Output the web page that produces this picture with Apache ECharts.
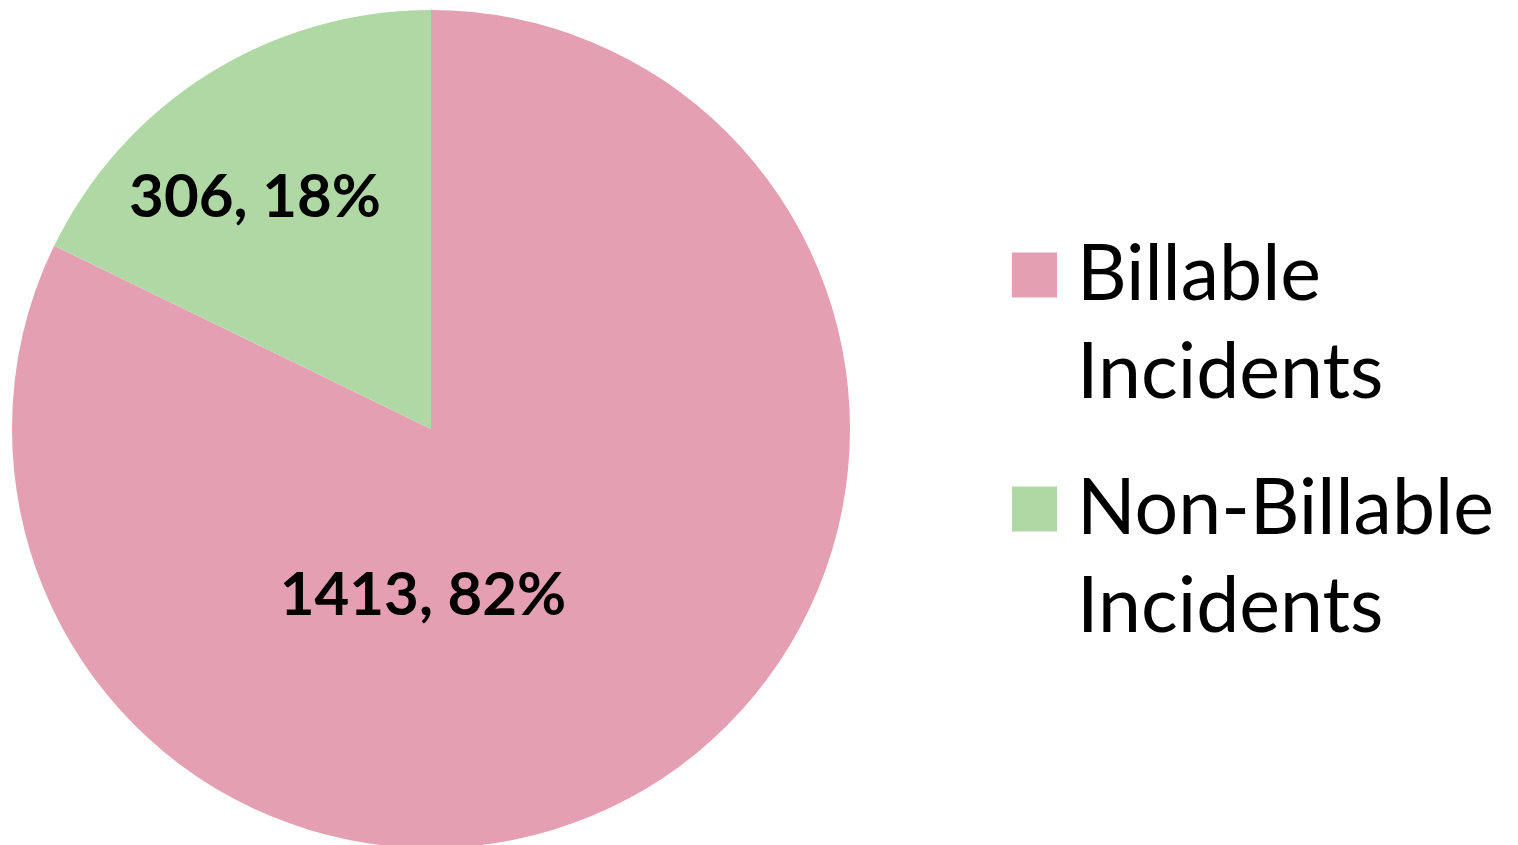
<!DOCTYPE html>
<html>
<head>
<meta charset="utf-8">
<script src="https://cdn.jsdelivr.net/npm/echarts@6/dist/echarts.min.js"></script>
<style>
html,body{margin:0;padding:0;background:#fff;}
#chart{width:1518px;height:845px;}
</style>
</head>
<body>
<div id="chart"></div>
<script>
const categories = ['Billable\nIncidents', 'Non-Billable\nIncidents'];
const values = [1413, 306];
const colors = ['#E49FB2', '#B0D8A5'];

// label offsets from pie center (layout only)
const labelShift = [[-8, 167], [-176, -231]];

const chart = echarts.init(document.getElementById('chart'), null, {renderer: 'canvas'});
const FONT = 'Lato';
chart.setOption({
  animation: false,
  backgroundColor: '#fff',
  legend: {
    orient: 'vertical',
    left: 1012,
    top: 128,
    padding: 0,
    itemWidth: 45,
    itemHeight: 45,
    itemGap: -60,
    icon: 'rect',
    selectedMode: false,
    data: categories,
    formatter: function (name) { return '\n' + name; },
    textStyle: {
      fontFamily: FONT,
      fontSize: 77,
      color: '#000',
      lineHeight: 98,
      padding: [0, 0, 0, 15]
    }
  },
  series: [{
    type: 'pie',
    center: [431, 429],
    radius: 419,
    startAngle: 90,
    clockwise: true,
    percentPrecision: 0,
    silent: true,
    emphasis: {disabled: true},
    labelLine: {show: false},
    label: {
      show: true,
      position: 'center',
      formatter: '{c}, {d}%',
      fontFamily: FONT,
      fontWeight: 'bold',
      fontSize: 60,
      color: '#000'
    },
    labelLayout: function (params) {
      const s = labelShift[params.dataIndex];
      return {dx: s[0], dy: s[1]};
    },
    data: categories.map((c, i) => ({name: c, value: values[i], itemStyle: {color: colors[i]}}))
  }]
});
</script>
</body>
</html>
